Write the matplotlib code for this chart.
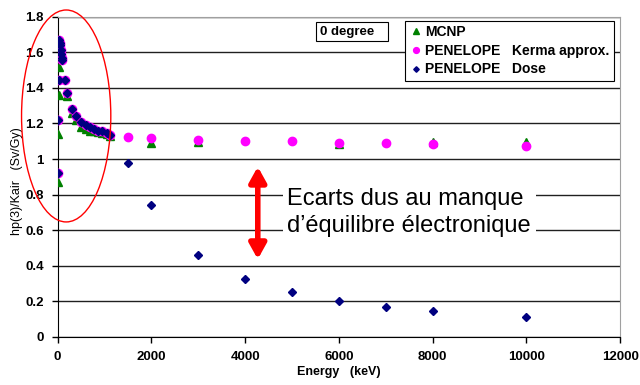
#!/usr/bin/env python3
"""
Hp(3)/Kair vs photon energy at 0 degree: MCNP vs PENELOPE (kerma approx. / dose).
Saves out.png (640x385).
"""

import matplotlib
matplotlib.use("Agg")
import matplotlib.pyplot as plt
from matplotlib.patches import Ellipse

plt.rcParams["font.family"] = ["Liberation Sans", "DejaVu Sans"]

# MCNP
mcnp_e = [10, 15, 20, 30, 200, 300, 400, 500, 600, 690, 780, 865, 950, 1045, 1115,
          2000, 3000, 6000, 8000, 10000]
mcnp_v = [0.87, 1.14, 1.36, 1.515, 1.354, 1.26, 1.219, 1.181, 1.169, 1.16, 1.155,
          1.15, 1.145, 1.14, 1.13, 1.088, 1.097, 1.085, 1.095, 1.095]

# PENELOPE dose
dose_e = [10, 15, 25, 40, 50, 60, 65, 80, 90, 100, 150, 200, 300, 400, 500, 600,
          690, 780, 865, 950, 1045, 1115, 1500, 2000, 3000, 4000, 5000, 6000,
          7000, 8000, 10000]
dose_v = [0.92, 1.22, 1.445, 1.67, 1.65, 1.64, 1.61, 1.59, 1.57, 1.555, 1.445,
          1.37, 1.28, 1.24, 1.21, 1.19, 1.18, 1.17, 1.16, 1.155, 1.145, 1.135,
          0.978, 0.742, 0.462, 0.328, 0.253, 0.200, 0.169, 0.148, 0.114]

# PENELOPE kerma approximation (same as dose below ~1.1 MeV)
kerma_e = dose_e[:22] + [1500, 2000, 3000, 4000, 5000, 6000, 7000, 8000, 10000]
kerma_v = dose_v[:22] + [1.125, 1.12, 1.107, 1.103, 1.101, 1.092, 1.088, 1.083, 1.075]

x_ticks = [0, 2000, 4000, 6000, 8000, 10000, 12000]
y_ticks = [0, 0.2, 0.4, 0.6, 0.8, 1, 1.2, 1.4, 1.6, 1.8]
y_tick_labels = ["0", "0.2", "0.4", "0.6", "0.8", "1", "1.2", "1.4", "1.6", "1.8"]


def main():
    fig = plt.figure(figsize=(6.4, 3.85), dpi=100)
    ax = fig.add_axes([0.090, 0.1247, 0.879, 0.832])

    ax.plot(mcnp_e, mcnp_v, ls="none", marker="^", ms=5.5, color="#008000",
            mec="#008000", label="MCNP", zorder=3)
    ax.plot(kerma_e, kerma_v, ls="none", marker="o", ms=6, color="#ff00ff",
            mec="#ff00ff", label="PENELOPE   Kerma approx.", zorder=4)
    ax.plot(dose_e, dose_v, ls="none", marker="D", ms=4, color="#000080",
            mec="#000080", label="PENELOPE   Dose", zorder=5)

    ax.set_xlim(0, 12000)
    ax.set_ylim(0, 1.8)
    ax.set_xticks(x_ticks)
    ax.set_yticks(y_ticks)
    ax.set_yticklabels(y_tick_labels)
    for lab in ax.get_xticklabels() + ax.get_yticklabels():
        lab.set_fontweight("bold")
        lab.set_fontsize(9.5)
    ax.tick_params(direction="out", length=4, width=1, color="black", pad=6)
    ax.yaxis.grid(True, color="#202020", lw=1)
    ax.set_axisbelow(True)
    ax.spines["left"].set_color("black")
    ax.spines["bottom"].set_color("black")
    ax.spines["top"].set_color("#a0a0a0")
    ax.spines["right"].set_color("#a0a0a0")

    ax.set_xlabel("Energy   (keV)", fontsize=9, fontweight="bold", labelpad=2)
    ax.set_ylabel("hp(3)/Kair   (Sv/Gy)", fontsize=9)
    ax.yaxis.set_label_coords(-0.062, 0.487)

    leg = ax.legend(loc="upper right", bbox_to_anchor=(0.9885, 0.988),
                    fancybox=False, framealpha=1, edgecolor="black",
                    prop={"weight": "bold", "size": 10}, handletextpad=0.15,
                    handlelength=1.0, borderpad=0.3, labelspacing=0.35,
                    markerscale=0.7, borderaxespad=0)
    leg.get_frame().set_linewidth(0.8)

    ax.text(0.466, 0.953, "0 degree   ", transform=ax.transAxes, fontsize=9.5,
            fontweight="bold", ha="left", va="center",
            bbox=dict(boxstyle="square,pad=0.25", fc="white", ec="black", lw=0.8),
            zorder=6)

    # ellipse around the low-energy region
    ax.add_patch(Ellipse((183, 1.242), 1904, 1.191, fill=False, ec="red",
                         lw=1, clip_on=False, zorder=6))

    # double arrow showing the gap
    ax.annotate("", xy=(4270, 0.437), xytext=(4270, 0.957),
                arrowprops=dict(arrowstyle="<|-|>,head_length=0.9,head_width=0.5",
                                color="red", lw=4, shrinkA=0, shrinkB=0),
                zorder=6)
    ax.text(4900, 0.70, "Ecarts dus au manque\nd\u2019\u00e9quilibre \u00e9lectronique",
            fontsize=17, ha="left", va="center", linespacing=1.3,
            bbox=dict(boxstyle="square,pad=0.2", fc="white", ec="none"),
            zorder=6)

    fig.savefig("out.png", dpi=100)
    plt.close(fig)


if __name__ == "__main__":
    main()
